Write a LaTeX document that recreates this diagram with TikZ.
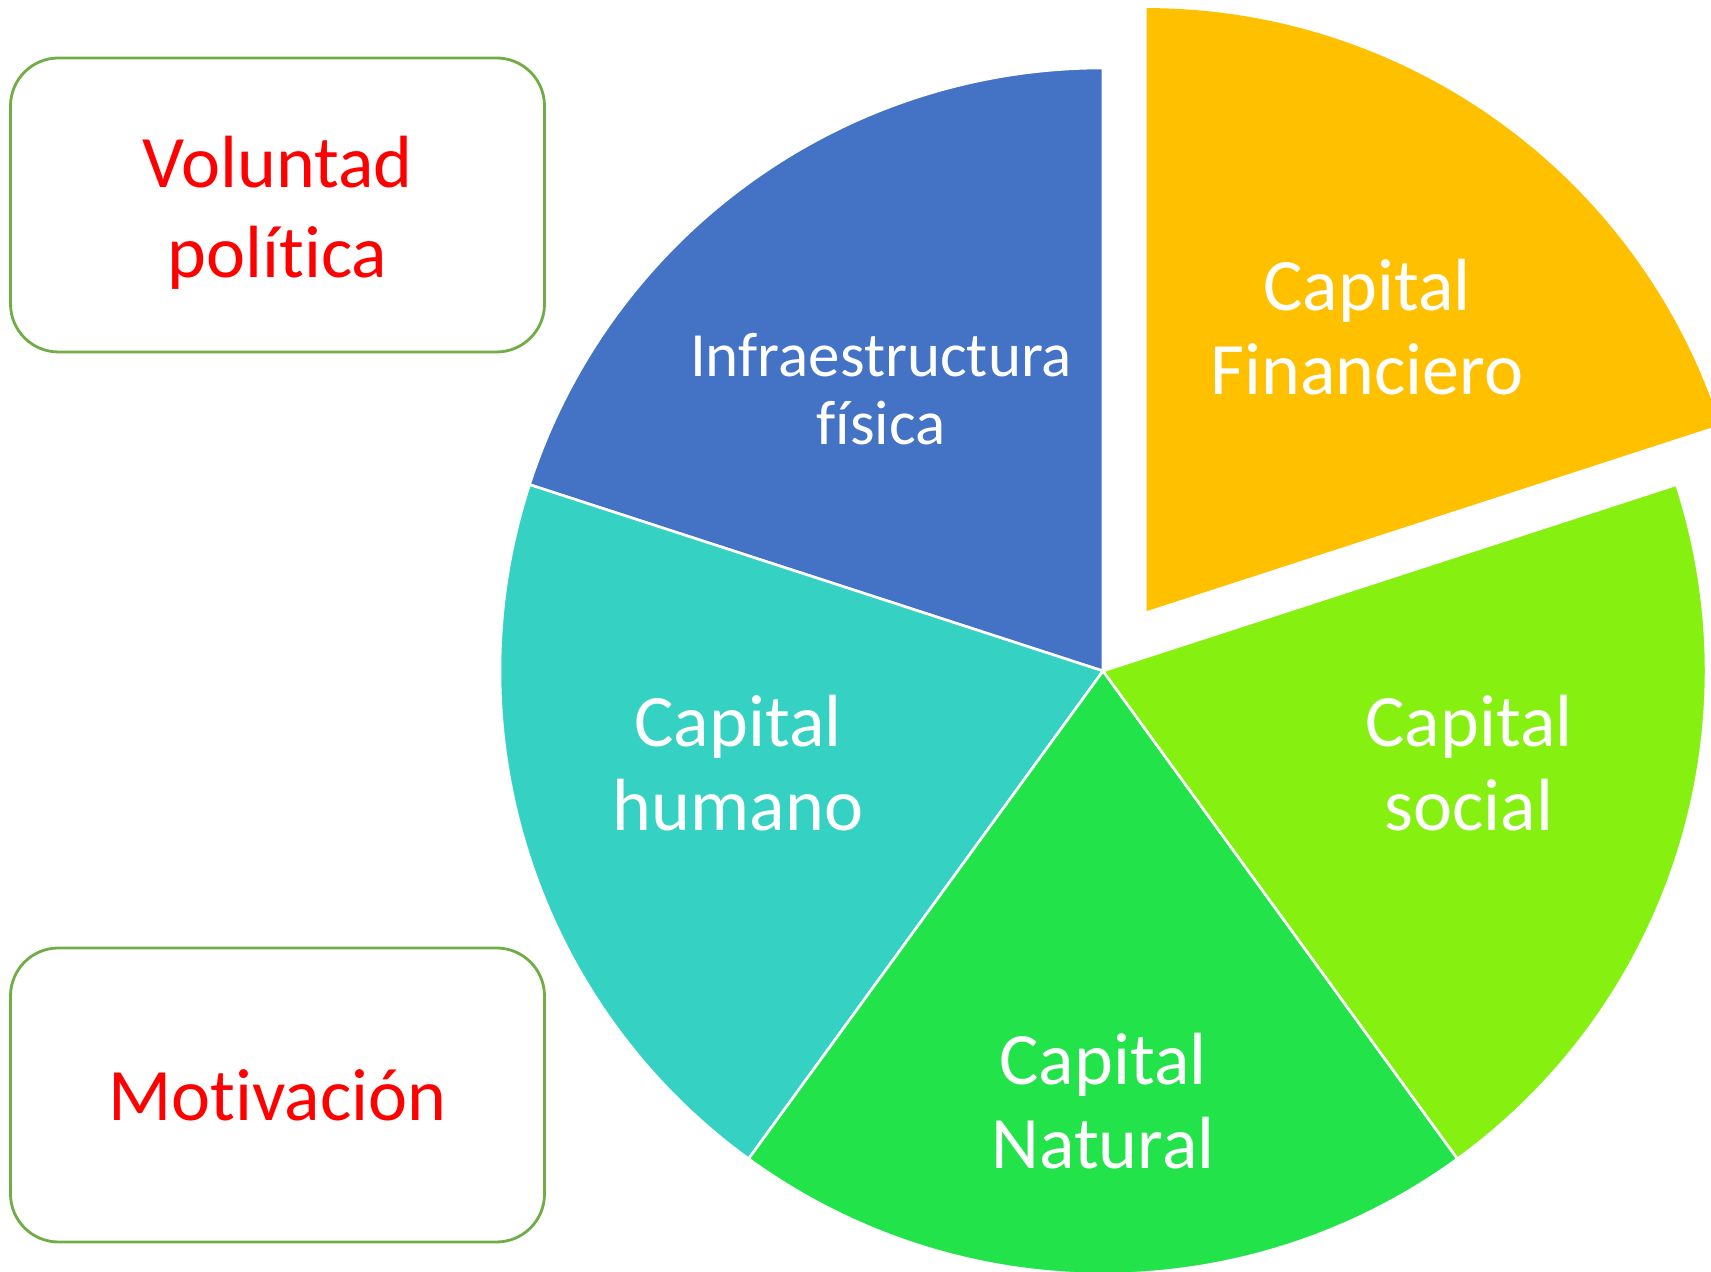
\documentclass[tikz,border=0pt]{standalone}
\usepackage{fontspec}
\setmainfont{Carlito}[Ligatures=NoCommon]
\usepackage{tikz}
\usetikzlibrary{calc,positioning}
\definecolor{blueslice}{HTML}{4472C4}
\definecolor{yellowslice}{HTML}{FFC000}
\definecolor{limeslice}{HTML}{86F011}
\definecolor{greenslice}{HTML}{22E34A}
\definecolor{tealslice}{HTML}{35D2C4}
\definecolor{boxgreen}{HTML}{70AD47}

\begin{document}
\begin{tikzpicture}[x=0.5pt, y=0.5pt,
    slice/.style={draw=white, line width=1.3pt},
    piece/.style={text=white, align=center, font=\fontsize{37}{42}\selectfont},
    motive/.style={draw=boxgreen, line width=1.4pt, rounded corners=24pt,
      minimum width=267pt, minimum height=147pt, text=red, align=center,
      font=\fontsize{37}{45}\selectfont}]
      \useasboundingbox (0,0) rectangle (1711,1272);
      \clip (0,0) rectangle (1711,1272);
      \coordinate (O) at (1103,601);
      \coordinate (Of) at ($(O)+(54:74)$);
      \fill[blueslice, slice] (O) -- ++(90:301.5pt) arc[start angle=90, end angle=162, radius=301.5pt] -- cycle;
      \fill[tealslice, slice] (O) -- ++(162:301.5pt) arc[start angle=162, end angle=234, radius=301.5pt] -- cycle;
      \fill[greenslice, slice] (O) -- ++(234:301.5pt) arc[start angle=234, end angle=306, radius=301.5pt] -- cycle;
      \fill[limeslice, slice] (O) -- ++(306:301.5pt) arc[start angle=306, end angle=378, radius=301.5pt] -- cycle;
      \fill[yellowslice] (Of) -- ++(18:301.5pt) arc[start angle=18, end angle=90, radius=301.5pt] -- cycle;
      \node[piece, font=\fontsize{31.5}{34}\selectfont] (infra) at (881,883) {Infraestructura\\física};
      \node[piece] (financiero) at (1367,945) {Capital\\Financiero};
      \node[piece] (social) at (1469,509) {Capital\\social};
      \node[piece] (humano) at (738,509) {Capital\\humano};
      \node[piece] (natural) at (1103,171) {Capital\\Natural};
      \node[motive] (voluntad) at (277.5,1067) {};
      \node[text=red, align=center, font=\fontsize{37}{45}\selectfont] (voluntadtxt) at (277.5,1059) {Voluntad\\política};
      \node[motive] (motivacion) at (277.5,177) {Motivación};
    \end{tikzpicture}
\end{document}
